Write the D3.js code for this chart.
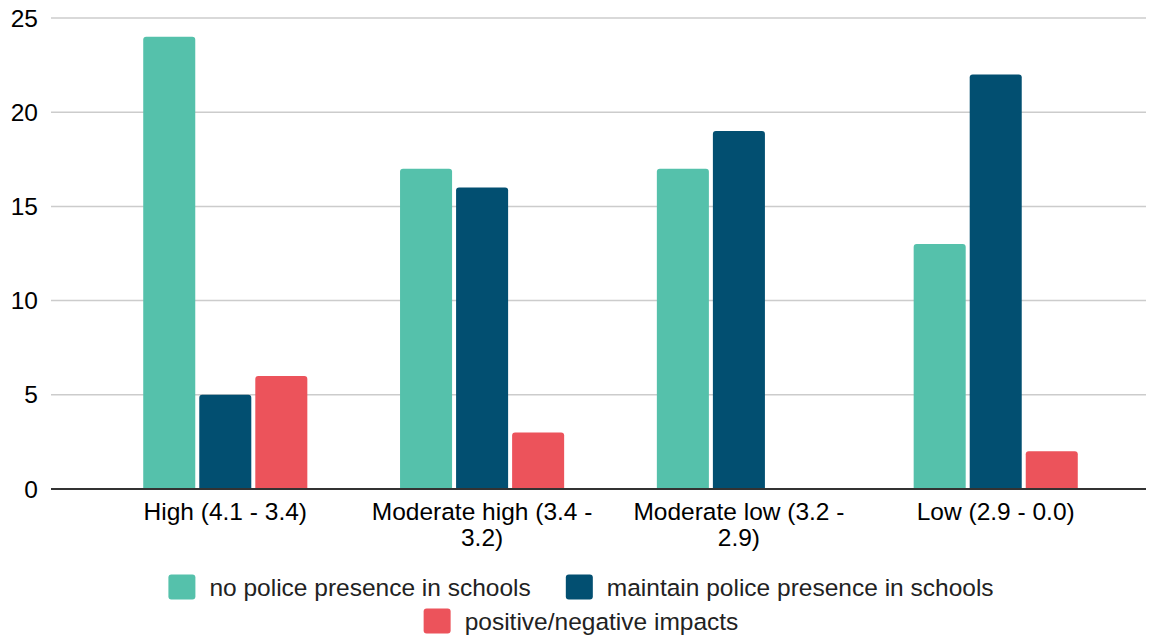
<!DOCTYPE html>
<html>
<head>
<meta charset="utf-8">
<script src="https://cdn.jsdelivr.net/npm/d3@7"></script>
<style>
  html, body { margin: 0; padding: 0; background: #fff; }
  svg { display: block; font-family: "Liberation Sans", Arial, Helvetica, sans-serif; }
</style>
</head>
<body>
<svg id="chart" width="1156" height="635"></svg>
<script>
// Survey groups and counts per response type
const categories = ["High (4.1 - 3.4)", "Moderate high (3.4 - 3.2)", "Moderate low (3.2 - 2.9)", "Low (2.9 - 0.0)"];
const seriesNames = ["no police presence in schools", "maintain police presence in schools", "positive/negative impacts"];
const noPolice = [24, 17, 17, 13];
const maintainPolice = [5, 16, 19, 22];
const impacts = [6, 3, 0, 2];
const yTicks = [0, 5, 10, 15, 20, 25];
const colors = ["#55c1ab", "#024f71", "#ec535b"];

const seriesValues = [noPolice, maintainPolice, impacts];
const rows = categories.map((c, i) => ({
  category: c,
  values: seriesNames.map((s, j) => ({ series: s, value: seriesValues[j][i], color: colors[j] }))
}));

const svg = d3.select("#chart");
const plot = { left: 51, right: 1146, top: 18, bottom: 489 };
const fontSize = 24.5;

const y = d3.scaleLinear().domain([0, 25]).range([plot.bottom, plot.top]);
const x0 = d3.scaleBand().domain(categories).range([97, 1124]).paddingInner(0.361).paddingOuter(0.18);
const x1 = d3.scaleBand().domain(seriesNames).range([0, x0.bandwidth()]).paddingInner(4 / 56).paddingOuter(0);

// Gridlines
svg.append("g").selectAll("line")
  .data(yTicks.filter(t => t !== 0))
  .join("line")
  .attr("x1", plot.left).attr("x2", plot.right)
  .attr("y1", d => y(d)).attr("y2", d => y(d))
  .attr("stroke", "#cccccc").attr("stroke-width", 1.5);

// Y tick labels
svg.append("g").selectAll("text")
  .data(yTicks)
  .join("text")
  .attr("x", 38).attr("y", d => y(d))
  .attr("text-anchor", "end")
  .attr("dominant-baseline", "central")
  .attr("font-size", fontSize)
  .attr("fill", "#000")
  .text(d => d);

// Bars with slightly rounded top corners
function barPath(xp, w, yTop, yBase, r) {
  const h = yBase - yTop;
  if (h <= 0) return "";
  r = Math.min(r, h, w / 2);
  return `M${xp},${yBase}V${yTop + r}Q${xp},${yTop} ${xp + r},${yTop}H${xp + w - r}Q${xp + w},${yTop} ${xp + w},${yTop + r}V${yBase}Z`;
}

const groups = svg.append("g").selectAll("g")
  .data(rows)
  .join("g")
  .attr("transform", d => `translate(${x0(d.category)},0)`);

groups.selectAll("path")
  .data(d => d.values.filter(v => v.value > 0))
  .join("path")
  .attr("d", v => barPath(x1(v.series), x1.bandwidth(), y(v.value), y(0), 3))
  .attr("fill", v => v.color);

// Baseline
svg.append("line")
  .attr("x1", plot.left).attr("x2", plot.right)
  .attr("y1", y(0)).attr("y2", y(0))
  .attr("stroke", "#333333").attr("stroke-width", 2);

// X axis labels with wrapping
const xAxis = d3.axisBottom(x0).tickSize(0).tickPadding(0);
const xg = svg.append("g").attr("transform", `translate(0,${y(0)})`).call(xAxis);
xg.select(".domain").remove();
xg.selectAll(".tick text")
  .attr("font-size", fontSize)
  .attr("font-family", "Liberation Sans, Arial, sans-serif")
  .attr("fill", "#000")
  .attr("dy", null)
  .attr("y", 0)
  .each(function (d) {
    const t = d3.select(this);
    const words = d.split(" ");
    t.text(null);
    const maxW = x0.step() - 10;
    let line = [];
    let lineNo = 0;
    let tspan = t.append("tspan").attr("x", 0).attr("y", 31);
    for (const w of words) {
      line.push(w);
      tspan.text(line.join(" "));
      if (tspan.node().getComputedTextLength() > maxW && line.length > 1) {
        line.pop();
        tspan.text(line.join(" "));
        line = [w];
        lineNo++;
        tspan = t.append("tspan").attr("x", 0).attr("y", 31 + lineNo * 26).text(w);
      }
    }
  });

// Legend
const legendRows = [[0, 1], [2]];
const legendY = [587, 621];
const legendCenter = 581;
const sw = 27, sh = 25, gapText = 14, gapItem = 35;
legendRows.forEach((idxs, r) => {
  const g = svg.append("g");
  let cursor = 0;
  idxs.forEach((i, k) => {
    const item = g.append("g").attr("transform", `translate(${cursor},0)`);
    item.append("rect")
      .attr("x", 0).attr("y", legendY[r] - sh / 2)
      .attr("width", sw).attr("height", sh)
      .attr("rx", 3).attr("fill", colors[i]);
    const txt = item.append("text")
      .attr("x", sw + gapText).attr("y", legendY[r])
      .attr("dominant-baseline", "central")
      .attr("font-size", fontSize)
      .attr("fill", "#222")
      .text(seriesNames[i]);
    cursor += sw + gapText + txt.node().getComputedTextLength() + gapItem;
  });
  const total = cursor - gapItem;
  g.attr("transform", `translate(${legendCenter - total / 2},0)`);
});
</script>
</body>
</html>
